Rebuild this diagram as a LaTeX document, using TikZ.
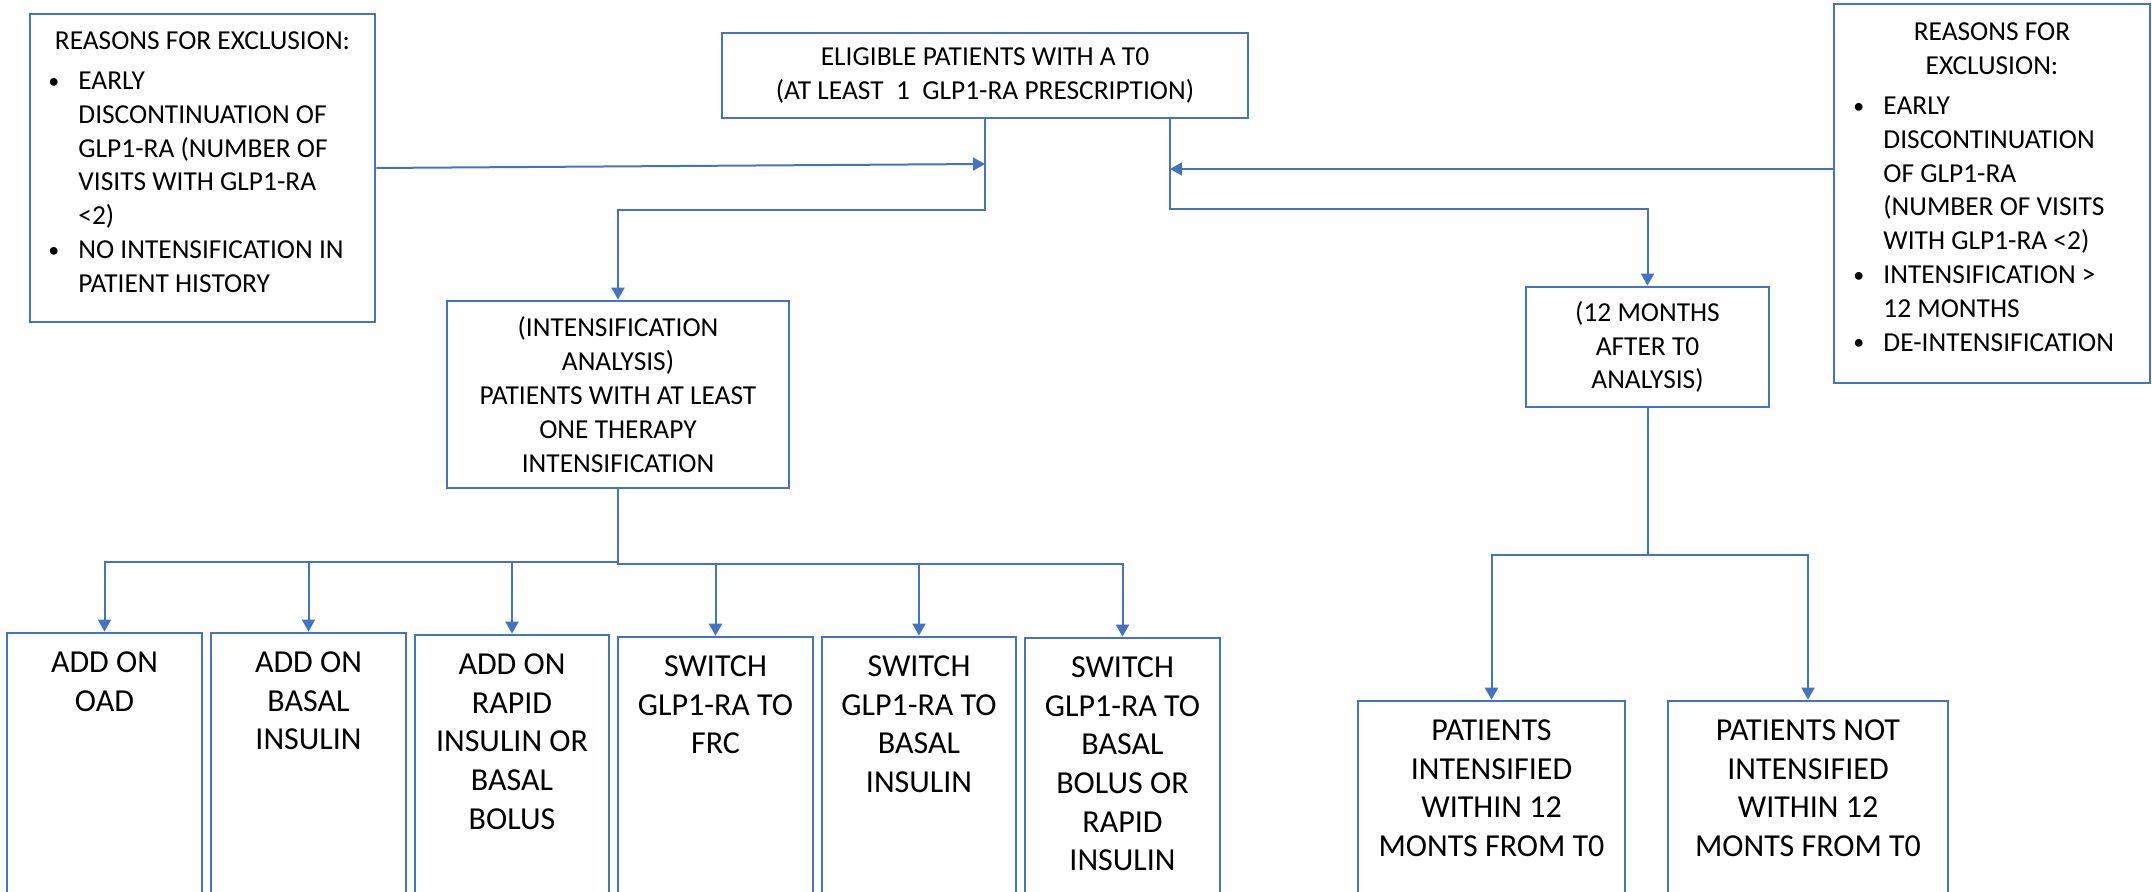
\documentclass[tikz,border=0pt]{standalone}
\usepackage{fontspec}
\usepackage{graphicx}
\setmainfont{Carlito}
\usetikzlibrary{arrows.meta,fit}
\definecolor{boxblue}{RGB}{68,114,196}
% bullet item helpers for the exclusion lists
\newcommand\bulitem{\makebox[15pt][l]{\raisebox{0.6pt}{\scalebox{0.8}{\textbullet}}}}
\newcommand\bulcont{\hspace*{15pt}}
% fixed first-line height so top-anchored texts sit on a known baseline
\newcommand\topstrut{\rule{0pt}{0.75em}}
\begin{document}
\begin{tikzpicture}[x=0.5pt,y=-0.5pt,
  box/.style={draw=boxblue,line width=1.4pt,inner sep=0pt,fill=none},
  conn/.style={draw=boxblue,line width=1pt},
  arr/.style={conn,-{Triangle[length=6pt,width=6.5pt]}},
  txt/.style={inner sep=0pt,align=center,font=\fontsize{13.7}{16.9}\selectfont},
  listtxt/.style={inner sep=0pt,align=left,font=\fontsize{13.7}{16.9}\selectfont},
  bigtxt/.style={inner sep=0pt,align=center,anchor=north,font=\fontsize{16}{19.35}\selectfont}]
\useasboundingbox (0,0) rectangle (2152,892);
\clip (0,0) rectangle (2152,892);

% boxes
\node[box,fit={(30,14) (375,322)}] (L) {};
\node[box,fit={(722,33) (1248,118)}] (T) {};
\node[box,fit={(1834,4) (2150,383)}] (R) {};
\node[box,fit={(447,301) (789,488)}] (I) {};
\node[box,fit={(1526,287) (1769,407)}] (M) {};
\node[box,fit={(7,633) (202,898)}] (B1) {};
\node[box,fit={(211,633) (406,898)}] (B2) {};
\node[box,fit={(415,635) (609,898)}] (B3) {};
\node[box,fit={(618,637) (813,898)}] (B4) {};
\node[box,fit={(822,637) (1016,898)}] (B5) {};
\node[box,fit={(1025,638) (1220,898)}] (B6) {};
\node[box,fit={(1358,701) (1625,898)}] (PI) {};
\node[box,fit={(1668,701) (1948,898)}] (PN) {};

% centred texts
\node[txt] (Ttxt) at (T.center) {ELIGIBLE PATIENTS WITH A T0\\(AT LEAST\ \ 1\ \ GLP1-RA PRESCRIPTION)};
\node[txt] (Itxt) at (I.center) {(INTENSIFICATION\\ANALYSIS)\\PATIENTS WITH AT LEAST\\ONE THERAPY\\INTENSIFICATION};
\node[txt] (Mtxt) at (M.center) {(12 MONTHS\\AFTER T0\\ANALYSIS)};

% exclusion lists
\node[txt,anchor=north] (Lhead) at (202.5,28.5) {\topstrut REASONS FOR EXCLUSION:};
\node[listtxt,anchor=north west] (Llist) at (48,68.5) {\topstrut\bulitem EARLY\\
  \bulcont DISCONTINUATION OF\\
  \bulcont GLP1-RA (NUMBER OF\\
  \bulcont VISITS WITH GLP1-RA\\
  \bulcont <2)\\
  \bulitem NO INTENSIFICATION IN\\
  \bulcont PATIENT HISTORY};
\node[txt,anchor=north] (Rhead) at (1992,19.5) {\topstrut REASONS FOR\\EXCLUSION:};
\node[listtxt,anchor=north west] (Rlist) at (1853,93.5) {\topstrut\bulitem EARLY\\
  \bulcont DISCONTINUATION\\
  \bulcont OF GLP1-RA\\
  \bulcont (NUMBER OF VISITS\\
  \bulcont WITH GLP1-RA <2)\\
  \bulitem INTENSIFICATION >\\
  \bulcont 12 MONTHS\\
  \bulitem DE-INTENSIFICATION};

% outcome texts, top aligned
\node[bigtxt] (B1txt) at ([yshift=-8.2pt]B1.north) {\topstrut ADD ON\\OAD};
\node[bigtxt] (B2txt) at ([yshift=-8.2pt]B2.north) {\topstrut ADD ON\\BASAL\\INSULIN};
\node[bigtxt] (B3txt) at ([yshift=-8.2pt]B3.north) {\topstrut ADD ON\\RAPID\\INSULIN OR\\BASAL\\BOLUS};
\node[bigtxt] (B4txt) at ([yshift=-8.2pt]B4.north) {\topstrut SWITCH\\GLP1-RA TO\\FRC};
\node[bigtxt] (B5txt) at ([yshift=-8.2pt]B5.north) {\topstrut SWITCH\\GLP1-RA TO\\BASAL\\INSULIN};
\node[bigtxt] (B6txt) at ([yshift=-8.2pt]B6.north) {\topstrut SWITCH\\GLP1-RA TO\\BASAL\\BOLUS OR\\RAPID\\INSULIN};
\node[bigtxt] (PItxt) at ([yshift=-8.2pt]PI.north) {\topstrut PATIENTS\\INTENSIFIED\\WITHIN 12\\MONTS FROM T0};
\node[bigtxt] (PNtxt) at ([yshift=-8.2pt]PN.north) {\topstrut PATIENTS NOT\\INTENSIFIED\\WITHIN 12\\MONTS FROM T0};

% junction points on the lines below the top box
\coordinate (jL) at (985,164);
\coordinate (jR) at (1170,169);
\coordinate (tR) at (1170,118);

% connectors
\draw[arr] (L.east) -- (jL);
\draw[arr] (jR -| R.west) -- (jR);
\draw[arr] (T.south) -- ++(0,91) -| (I.north);
\draw[arr] (tR) -- (1170,209) -| (M.north);
\draw[arr] (M.south) -- ++(0,147) -| (PI.north);
\draw[arr] (M.south) -- ++(0,147) -| (PN.north);
\draw[arr] (I.south) -- ++(0,73) -| (B1.north);
\draw[arr] (I.south) -- ++(0,73) -| (B2.north);
\draw[arr] (I.south) -- ++(0,73) -| (B3.north);
\draw[arr] (I.south) -- ++(0,75) -| (B4.north);
\draw[arr] (I.south) -- ++(0,75) -| (B5.north);
\draw[arr] (I.south) -- ++(0,75) -| (B6.north);
\end{tikzpicture}
\end{document}
